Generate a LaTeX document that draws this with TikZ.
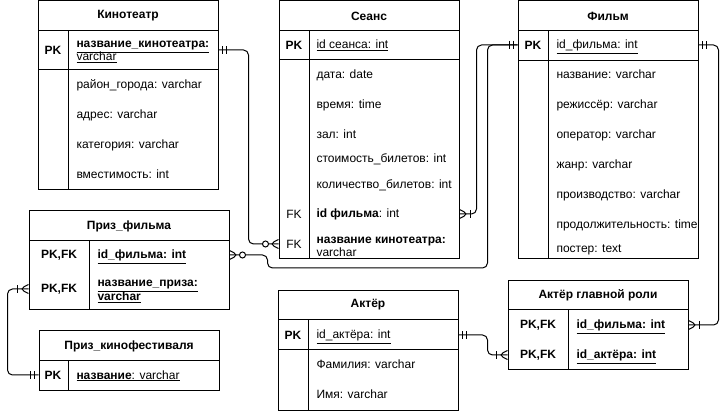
\documentclass[tikz,border=0pt]{standalone}
\usepackage{fontspec}
\setmainfont{Liberation Sans}
\usetikzlibrary{decorations.markings}

\tikzset{
  tabbox/.style={draw,rectangle,inner sep=0pt},
  field/.style={anchor=west,inner sep=0pt,text height=8.6pt,text depth=2.6pt,yshift=-1pt},
  tabtitle/.style={inner sep=0pt,font=\fontsize{12}{14}\selectfont\bfseries},
  keytag/.style={inner sep=0pt,font=\fontsize{12}{14}\selectfont\bfseries},
  fktag/.style={inner sep=0pt},
  link/.style={rounded corners=5pt},
  onestart/.style={postaction={decorate,decoration={markings,
      mark=at position 4pt with {\draw (0,-4pt) -- (0,4pt);},
      mark=at position 8pt with {\draw (0,-4pt) -- (0,4pt);}}}},
  zeromanyend/.style={postaction={decorate,decoration={markings,
      mark=at position 1 with {\draw (0,4.5pt) -- (-9pt,0) -- (0,-4.5pt);
        \draw[fill=white] (-13pt,0) circle (3pt);}}}},
  onemanyend/.style={postaction={decorate,decoration={markings,
      mark=at position 1 with {\draw (0,4.5pt) -- (-9pt,0) -- (0,-4.5pt);
        \draw (-11pt,-4pt) -- (-11pt,4pt);}}}}
}

\begin{document}
\begin{tikzpicture}[x=1pt,y=-1pt,line width=1pt,
  every node/.style={font=\fontsize{12}{14}\selectfont}]
\useasboundingbox (0,0) rectangle (728,411);

% Кинотеатр
\node[tabbox,minimum width=180pt,minimum height=189pt] (kino) at (128,95.5) {};
\draw (38,31) -- (218,31) (38,70) -- (218,70) (68,31) -- (68,190);
\node[tabtitle] (kinoT) at (128,16) {Кинотеатр};
\node[keytag] (kinoK) at (53,50) {PK};
\node[field] (kinoP1) at (76,44) {\underline{\textbf{название\_кинотеатра:}}};
\node[field] (kinoP2) at (76,57) {\underline{varchar}};
\foreach \y/\txt in {85/район\_города: varchar, 115/адрес: varchar,
    145/категория: varchar, 175/вместимость: int}
  \node[field] (kino\y) at (76,\y) {\txt};

% Сеанс
\node[tabbox,minimum width=180pt,minimum height=258pt] (seans) at (369,130) {};
\draw (279,31) -- (459,31) (279,60) -- (459,60) (309,31) -- (309,259);
\node[tabtitle] (seansT) at (369,16) {Сеанс};
\node[keytag] (seansK) at (294,45) {PK};
\node[field] (seansP) at (316,45) {\underline{id сеанса: int}};
\foreach \y/\txt in {75/дата: date, 105/время: time, 135/зал: int,
    159/стоимость\_билетов: int, 185/количество\_билетов: int}
  \node[field] (seans\y) at (316,\y) {\txt};
\node[fktag] (seansFK1) at (294,214) {FK};
\node[fktag] (seansFK2) at (294,244) {FK};
\node[field] (seansF1) at (316,214) {\textbf{id фильма}: int};
\node[field] (seansF2) at (316,240) {\textbf{название кинотеатра:}};
\node[field] (seansF3) at (316,253) {varchar};

% Фильм
\node[tabbox,minimum width=180pt,minimum height=258pt] (film) at (608,130) {};
\draw (518,31) -- (698,31) (518,61) -- (698,61) (548,31) -- (548,259);
\node[tabtitle] (filmT) at (608,16) {Фильм};
\node[keytag] (filmK) at (533,45) {PK};
\node[field] (filmP) at (556,45) {\underline{id\_фильма: int}};
\foreach \y/\txt in {75/название: varchar, 105/режиссёр: varchar,
    135/оператор: varchar, 165/жанр: varchar, 195/производство: varchar,
    225/продолжительность: time, 249/постер: text}
  \node[field] (film\y) at (556,\y) {\txt};

% Приз_фильма
\node[tabbox,minimum width=200pt,minimum height=99pt] (priz) at (129,260.5) {};
\draw (29,241) -- (229,241) (89,241) -- (89,310);
\node[tabtitle] (prizT) at (129,226) {Приз\_фильма};
\node[keytag] (prizK1) at (59,255) {PK,FK};
\node[keytag] (prizK2) at (59,289) {PK,FK};
\node[field] (prizP1) at (97,255) {\underline{\textbf{id\_фильма: int}}};
\node[field] (prizP2) at (97,283) {\underline{\textbf{название\_приза:}}};
\node[field] (prizP3) at (97,297) {\underline{\textbf{varchar}}};

% Приз_кинофестиваля
\node[tabbox,minimum width=180pt,minimum height=59pt] (fest) at (129,360.5) {};
\draw (39,361) -- (219,361) (68,361) -- (68,390);
\node[tabtitle] (festT) at (129,346) {Приз\_кинофестиваля};
\node[keytag] (festK) at (53,375) {PK};
\node[field] (festP) at (76,375) {\underline{\textbf{название}: varchar}};

% Актёр
\node[tabbox,minimum width=180pt,minimum height=119pt] (actor) at (368,350.5) {};
\draw (278,320) -- (458,320) (278,350) -- (458,350) (308,320) -- (308,410);
\node[tabtitle] (actorT) at (368,305) {Актёр};
\node[keytag] (actorK) at (293,335) {PK};
\node[field] (actorP) at (316,335) {\underline{id\_актёра: int}};
\node[field] (actor365) at (316,365) {Фамилия: varchar};
\node[field] (actor395) at (316,395) {Имя: varchar};

% Актёр главной роли
\node[tabbox,minimum width=180pt,minimum height=89pt] (lead) at (598,325.5) {};
\draw (508,310) -- (688,310) (568,310) -- (568,370);
\node[tabtitle] (leadT) at (598,295) {Актёр главной роли};
\node[keytag] (leadK1) at (538,325) {PK,FK};
\node[keytag] (leadK2) at (538,355) {PK,FK};
\node[field] (leadP1) at (576,325) {\underline{\textbf{id\_фильма: int}}};
\node[field] (leadP2) at (576,355) {\underline{\textbf{id\_актёра: int}}};

% связи
\draw[link,onestart,zeromanyend] (kinoK -| kino.east) -- ++(30,0) |- (seansFK2 -| seans.west);
\draw[link,onestart,onemanyend] (filmK -| film.west) -- ++(-41,0) |- (seansFK1 -| seans.east);
\draw[link,onestart,zeromanyend] (filmK -| film.west) -- ++(-30,0) |- ++(-220,223) |- (prizK1 -| priz.east);
\draw[link,onestart,onemanyend] (filmK -| film.east) -- ++(20,0) |- (leadK1 -| lead.east);
\draw[link,onestart,onemanyend] (actorK -| actor.east) -- ++(29,0) |- (leadK2 -| lead.west);
\draw[link,onestart,onemanyend] (festK -| fest.west) -- ++(-31,0) |- (prizK2 -| priz.west);
\end{tikzpicture}
\end{document}
